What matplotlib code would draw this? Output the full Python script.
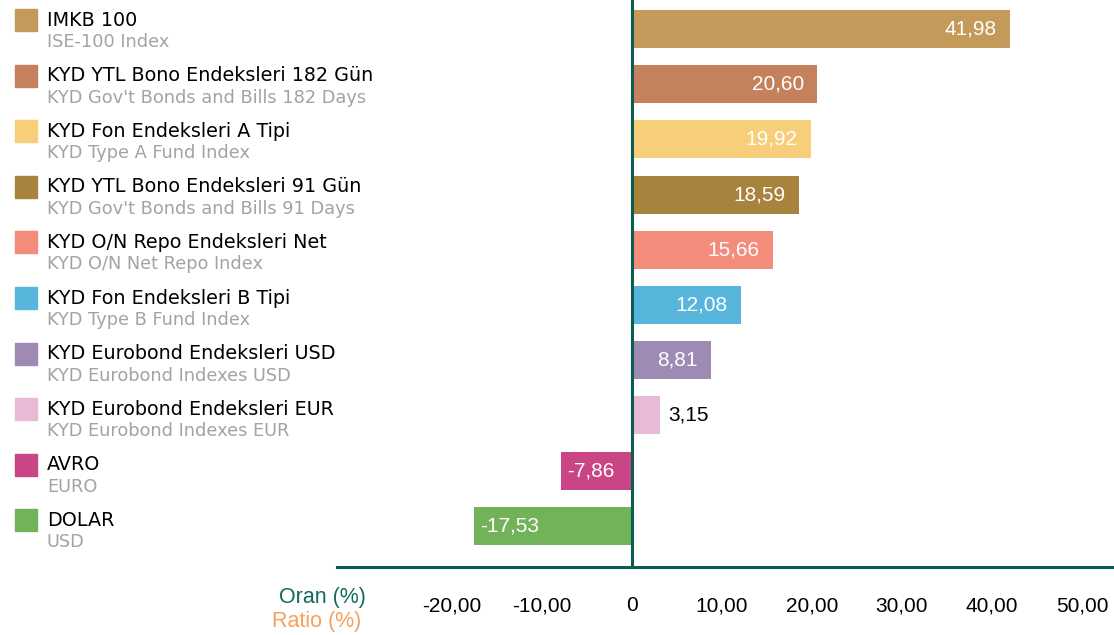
import matplotlib
matplotlib.use("Agg")
import matplotlib.pyplot as plt
from matplotlib.ticker import FuncFormatter

labels_tr = ["IMKB 100", "KYD YTL Bono Endeksleri 182 Gün", "KYD Fon Endeksleri A Tipi",
             "KYD YTL Bono Endeksleri 91 Gün", "KYD O/N Repo Endeksleri Net",
             "KYD Fon Endeksleri B Tipi", "KYD Eurobond Endeksleri USD",
             "KYD Eurobond Endeksleri EUR", "AVRO", "DOLAR"]
labels_en = ["ISE-100 Index", "KYD Gov't Bonds and Bills 182 Days", "KYD Type A Fund Index",
             "KYD Gov't Bonds and Bills 91 Days", "KYD O/N Net Repo Index",
             "KYD Type B Fund Index", "KYD Eurobond Indexes USD",
             "KYD Eurobond Indexes EUR", "EURO", "USD"]
values = [41.98, 20.60, 19.92, 18.59, 15.66, 12.08, 8.81, 3.15, -7.86, -17.53]
colors = ["#c49a5a", "#c5805c", "#f7cf7a", "#a8833e", "#f48c7c",
          "#58b5dc", "#9f8ab3", "#e9bad7", "#c94585", "#72b35a"]
xticks = [-20, -10, 0, 10, 20, 30, 40, 50]

plt.rcParams['font.family'] = ['DejaVu Sans']
NUMFONT = ['Liberation Sans', 'DejaVu Sans']

W, H = 1114, 635
fig = plt.figure(figsize=(W / 100, H / 100), dpi=100)

left_px, right_px, top_px, bot_px = 337, 1114, 0, 567
ax = fig.add_axes([left_px / W, 1 - bot_px / H, (right_px - left_px) / W, (bot_px - top_px) / H])

pxu = 9.0
zero_px = 632
ax.set_xlim((left_px - zero_px) / pxu, (right_px - zero_px) / pxu)
step = 55.2
first = 29
ax.set_ylim((bot_px - first) / step, -first / step)

ypos = list(range(len(values)))
ax.barh(ypos, values, height=38 / step, color=colors, zorder=2)

for y, v in zip(ypos, values):
    txt = f"{v:.2f}".replace(".", ",")
    if v >= 0:
        if v > 6:
            ax.text(v - 1.5, y, txt, ha="right", va="center", color="white",
                    fontsize=15, family=NUMFONT, zorder=3)
        else:
            ax.text(v + 0.9, y, txt, ha="left", va="center", color="black",
                    fontsize=15, family=NUMFONT, zorder=3)
    else:
        ax.text(v + 0.6, y, txt, ha="left", va="center", color="white",
                fontsize=15, family=NUMFONT, zorder=3)

ax.axvline(0, color="#0d5c50", lw=2.2, zorder=4)
for s in ["top", "right", "left"]:
    ax.spines[s].set_visible(False)
ax.spines["bottom"].set_color("#0d5c50")
ax.spines["bottom"].set_linewidth(2.2)
ax.set_yticks([])
ax.set_xticks(xticks)
ax.xaxis.set_major_formatter(FuncFormatter(lambda x, p: "0" if x == 0 else f"{x:.2f}".replace(".", ",")))
ax.tick_params(axis="x", length=0, pad=21, labelsize=15, labelcolor="black")
for lab in ax.get_xticklabels():
    lab.set_family(NUMFONT)

fig.text(366 / W, 1 - 597 / H, "Oran (%)", ha="right", va="center", color="#12695c",
         fontsize=15.5, family=NUMFONT)
fig.text(361 / W, 1 - 621 / H, "Ratio (%)", ha="right", va="center", color="#f5a05c",
         fontsize=15.5, family=NUMFONT)

lstep = 55.6
for i, (a, b, c) in enumerate(zip(labels_tr, labels_en, colors)):
    yc = 20 + lstep * i
    fig.patches.append(plt.Rectangle((15 / W, 1 - (yc + 11) / H), 22 / W, 22 / H,
                                     transform=fig.transFigure, color=c, figure=fig))
    fig.text(47 / W, 1 - yc / H, a, ha="left", va="center", color="black", fontsize=13.8)
    fig.text(47 / W, 1 - (yc + 22) / H, b, ha="left", va="center", color="#9fa4a9", fontsize=12.8)

fig.savefig("out.png", dpi=100)
